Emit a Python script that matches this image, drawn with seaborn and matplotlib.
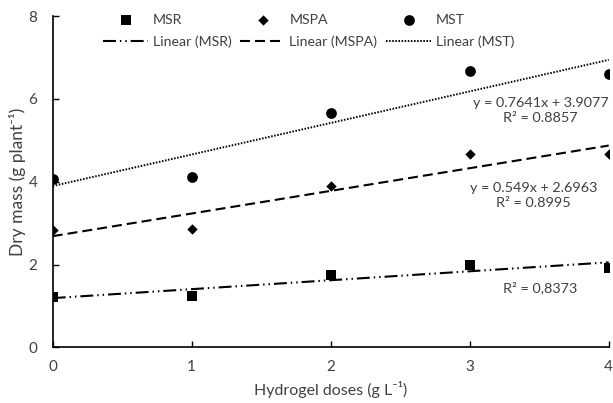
import matplotlib
matplotlib.use("Agg")
import matplotlib.pyplot as plt
import seaborn as sns

doses = [0, 1, 2, 3, 4]
msr = [1.21, 1.24, 1.75, 2.00, 1.91]
mspa = [2.83, 2.85, 3.90, 4.66, 4.66]
mst = [4.07, 4.11, 5.65, 6.67, 6.60]

eq_mst = "y = 0.7641x + 3.9077\nR² = 0.8857"
eq_mspa = "y = 0.549x + 2.6963\nR² = 0.8995"
eq_msr = "R² = 0,8373"

sns.set_style("ticks")
plt.rcParams['font.family'] = ['Lato', 'DejaVu Sans']
txt = '#404040'

fig = plt.figure(figsize=(6.13, 4.03), dpi=100)
ax = fig.add_axes([0.086, 0.138, 0.907, 0.822])

sns.regplot(x=doses, y=msr, ci=None, ax=ax, marker='s',
            scatter_kws={'s': 60, 'color': 'black', 'alpha': 1, 'linewidths': 0, 'zorder': 3},
            line_kws={'color': 'black', 'lw': 1.5, 'dashes': (6.2, 1.9, 0.7, 1.9, 0.7, 1.9)})
sns.regplot(x=doses, y=mspa, ci=None, ax=ax, marker='D',
            scatter_kws={'s': 28, 'color': 'black', 'alpha': 1, 'linewidths': 0, 'zorder': 3},
            line_kws={'color': 'black', 'lw': 1.5, 'dashes': (4.8, 2.4)})
sns.regplot(x=doses, y=mst, ci=None, ax=ax, marker='o',
            scatter_kws={'s': 60, 'color': 'black', 'alpha': 1, 'linewidths': 0, 'zorder': 3},
            line_kws={'color': 'black', 'lw': 1.4, 'dashes': (0.8, 0.8)})

# legend: markers on top row, trend lines on second row
coll = ax.collections
lines = ax.lines
handles = [coll[0], lines[0], coll[1], lines[1], coll[2], lines[2]]
labels = ['MSR', 'Linear (MSR)', 'MSPA', 'Linear (MSPA)', 'MST', 'Linear (MST)']
ax.legend(handles, labels, ncol=3, loc='upper center', bbox_to_anchor=(0.46, 1.045),
          frameon=False, fontsize=10.2, handlelength=3.2, columnspacing=0.6,
          handletextpad=0.3, labelspacing=0.7, labelcolor=txt)

ax.text(3.51, 5.71, eq_mst, ha='center', va='center', fontsize=10.4, color=txt, linespacing=1.3)
ax.text(3.46, 3.68, eq_mspa, ha='center', va='center', fontsize=10.4, color=txt, linespacing=1.3)
ax.text(3.51, 1.44, eq_msr, ha='center', va='center', fontsize=10.4, color=txt)

ax.set_xlim(0, 4)
ax.set_ylim(0, 8)
ax.set_xticks(doses)
ax.set_yticks([0, 2, 4, 6, 8])
ax.tick_params(direction='in', length=4, width=1, colors='black', labelcolor=txt,
               labelsize=11)
ax.tick_params(axis='x', pad=9)
ax.tick_params(axis='y', pad=11)
for s in ['left', 'bottom']:
    ax.spines[s].set_color('black')
    ax.spines[s].set_linewidth(1.2)
sns.despine(ax=ax)
ax.set_xlabel("Hydrogel doses (g L⁻¹)", fontsize=11.5, color=txt, labelpad=5)
ax.set_ylabel("Dry mass (g plant⁻¹)", fontsize=12.5, color=txt, labelpad=2)

fig.savefig("out.png", dpi=100)
